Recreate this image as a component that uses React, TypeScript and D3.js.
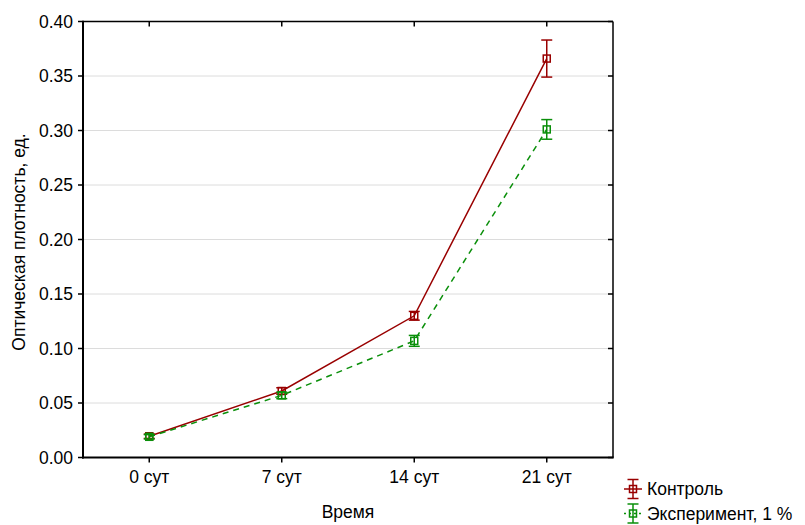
import React from 'react';
import { scalePoint, scaleLinear, line } from 'd3';

const days = ['0 сут', '7 сут', '14 сут', '21 сут'];
const yTicks = [0, 0.05, 0.1, 0.15, 0.2, 0.25, 0.3, 0.35, 0.4];

const controlMean = [0.0195, 0.061, 0.130, 0.366];
const controlErr = [0.002, 0.003, 0.004, 0.017];
const expMean = [0.019, 0.057, 0.107, 0.301];
const expErr = [0.002, 0.003, 0.005, 0.009];

const series = [
  { name: 'Контроль', mean: controlMean, err: controlErr, color: '#990000', dash: '' },
  { name: 'Эксперимент, 1 %', mean: expMean, err: expErr, color: '#0a8f0a', dash: '6,5' },
];

const W = 805;
const H = 525;
const left = 83;
const right = 613;
const top = 21.5;
const bottom = 457.5;
const font = 'Liberation Sans, Arial, sans-serif';
const fs = 17.5;

const App = () => {
  const x = scalePoint<string>().domain(days).range([left, right]).padding(0.5);
  const y = scaleLinear().domain([0, 0.4]).range([bottom, top]);
  const lineGen = line<number>()
    .x((_, i) => x(days[i]) as number)
    .y((d) => y(d));

  const marker = (cx: number, cy: number, lo: number, hi: number, color: string, key: string) => (
    <g key={key} stroke={color} strokeWidth={1.5} fill="none">
      <line x1={cx} x2={cx} y1={lo} y2={hi} />
      <line x1={cx - 5.5} x2={cx + 5.5} y1={lo} y2={lo} />
      <line x1={cx - 5.5} x2={cx + 5.5} y1={hi} y2={hi} />
      <rect x={cx - 3.5} y={cy - 3.5} width={7} height={7} />
    </g>
  );

  return (
    <svg width={W} height={H} style={{ position: 'absolute', left: 0, top: 0, background: 'white' }}>
      {/* gridlines */}
      {yTicks.slice(1, -1).map((t) => (
        <line key={'g' + t} x1={left} x2={right} y1={y(t)} y2={y(t)} stroke="#dcdcdc" strokeWidth={1} />
      ))}
      {/* frame */}
      <line x1={left} x2={right} y1={top} y2={top} stroke="#000" strokeWidth={1.5} />
      <line x1={right} x2={right} y1={top} y2={bottom} stroke="#000" strokeWidth={1.5} />
      <line x1={left} x2={left} y1={top - 0.75} y2={bottom + 1} stroke="#000" strokeWidth={2} />
      <line x1={left - 1} x2={right + 0.75} y1={bottom} y2={bottom} stroke="#000" strokeWidth={2} />
      {/* y ticks */}
      {yTicks.map((t) => (
        <g key={'y' + t}>
          <line x1={left - 5} x2={left} y1={y(t)} y2={y(t)} stroke="#000" strokeWidth={1.5} />
          <line x1={right - 5} x2={right} y1={y(t)} y2={y(t)} stroke="#000" strokeWidth={1.5} />
          <text x={left - 10} y={y(t)} dy="0.36em" textAnchor="end" fontFamily={font} fontSize={fs}>
            {t.toFixed(2)}
          </text>
        </g>
      ))}
      {/* x ticks */}
      {days.map((d) => (
        <g key={'x' + d}>
          <line x1={x(d)} x2={x(d)} y1={bottom} y2={bottom + 5} stroke="#000" strokeWidth={1.5} />
          <line x1={x(d)} x2={x(d)} y1={top} y2={top + 5} stroke="#000" strokeWidth={1.5} />
          <text x={x(d)} y={bottom + 25.5} textAnchor="middle" fontFamily={font} fontSize={fs}>
            {d}
          </text>
        </g>
      ))}
      {/* axis titles */}
      <text x={348} y={518} textAnchor="middle" fontFamily={font} fontSize={fs}>
        Время
      </text>
      <text
        transform={`translate(25, 242) rotate(-90)`}
        textAnchor="middle"
        fontFamily={font}
        fontSize={fs}
      >
        Оптическая плотность, ед.
      </text>
      {/* series */}
      {series.map((s) => (
        <g key={s.name}>
          <path d={lineGen(s.mean) as string} fill="none" stroke={s.color} strokeWidth={1.5} strokeDasharray={s.dash} />
          {s.mean.map((m, i) =>
            marker(x(days[i]) as number, y(m), y(m - s.err[i]), y(m + s.err[i]), s.color, s.name + i)
          )}
        </g>
      ))}
      {/* legend */}
      {series.map((s, i) => {
        const ly = 489 + i * 24.5;
        return (
          <g key={'l' + s.name}>
            <line x1={624} x2={642} y1={ly} y2={ly} stroke={s.color} strokeWidth={1.5} strokeDasharray={i ? '2,3' : ''} />
            {marker(633, ly, ly + 9.5, ly - 9.5, s.color, 'lm' + i)}
            <text x={647} y={ly} dy="0.36em" fontFamily={font} fontSize={fs}>
              {s.name}
            </text>
          </g>
        );
      })}
    </svg>
  );
};

export default App;
